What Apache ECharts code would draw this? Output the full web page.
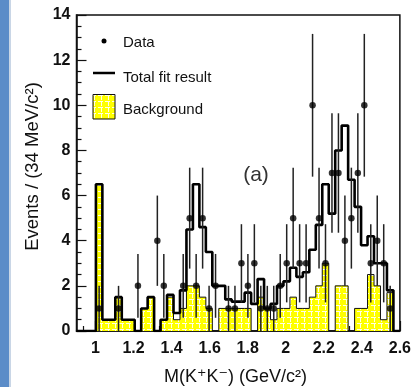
<!DOCTYPE html>
<html>
<head>
<meta charset="utf-8">
<script src="https://cdn.jsdelivr.net/npm/echarts@6/dist/echarts.min.js"></script>
<style>
  html, body { margin: 0; padding: 0; background: #fff; }
  #chart { width: 414px; height: 387px; }
</style>
</head>
<body>
<div id="chart"></div>
<script>
// K+K- invariant mass spectrum: 50 bins of 34 MeV/c^2 from 0.9 to 2.6 GeV/c^2
const massLow = 0.9;
const massHigh = 2.6;
const binWidth = 0.034;

// Observed events per bin
const dataCounts = [
  0, 0, 0, 1, 0, 0, 1, 0, 0, 2,
  0, 0, 4, 2, 0, 0, 2, 5, 2, 5,
  1, 2, 0, 1, 1, 3, 2, 3, 1, 1,
  1, 2, 3, 5, 3, 3, 10, 5, 3, 7,
  7, 4, 5, 7, 10, 3, 4, 3, 1, 0
];

// Total fit result per bin
const fitValues = [
  0, 0, 0, 6.5, 0.5, 0.5, 1.5, 0.5, 0.5, 0,
  1.0, 1.5, 0, 0.5, 1.6, 0.8, 1.8, 4.5, 6.5, 4.6,
  3.5, 2.0, 2.0, 1.4, 1.3, 1.3, 1.7, 1.2, 2.3, 1.0,
  1.2, 2.0, 2.2, 2.8, 2.4, 2.6, 3.6, 4.7, 6.5, 5.2,
  8.0, 9.1, 6.7, 5.5, 3.8, 4.2, 3.0, 3.0, 1.8, 0
];

// Background contribution per bin
const bkgValues = [
  0, 0, 0, 6.5, 0.5, 0.5, 1.5, 0.5, 0.5, 0,
  1.0, 1.5, 0, 0.5, 1.5, 0.5, 1.0, 2.0, 2.0, 1.5,
  1.0, 0, 1.0, 1.0, 1.0, 1.0, 1.0, 0, 1.5, 1.0,
  0.5, 1.0, 1.0, 1.5, 1.0, 1.0, 1.5, 2.0, 3.0, 0,
  2.0, 2.0, 0, 1.0, 1.0, 2.5, 2.0, 0.5, 1.7, 0
];

const xTickLabels = [1, 1.2, 1.4, 1.6, 1.8, 2, 2.2, 2.4, 2.6];
const yTickLabels = [0, 2, 4, 6, 8, 10, 12, 14];

// Histogram outline points: left edge of each bin, then the closing edge
function histPoints(values) {
  const pts = values.map((v, i) => [massLow + i * binWidth, v]);
  pts.push([massHigh, values[values.length - 1]]);
  pts.push([massHigh, 0]);
  return pts;
}

// Yellow fill with a fine white grid
function gridPattern() {
  const c = document.createElement('canvas');
  c.width = 7; c.height = 6;
  const g = c.getContext('2d');
  g.fillStyle = '#ffff00';
  g.fillRect(0, 0, 7, 6);
  g.fillStyle = 'rgba(255,255,255,0.9)';
  g.fillRect(3, 0, 1, 4);
  g.fillRect(0, 5, 5, 1);
  return c;
}
const pattern = { image: gridPattern(), repeat: 'repeat' };

// Points with Poisson (sqrt N) uncertainties; empty bins are not drawn
const points = [];
dataCounts.forEach((n, i) => {
  if (n > 0) points.push([massLow + (i + 0.5) * binWidth, n, Math.sqrt(n)]);
});

// Secondary ticks: three divisions between labelled ticks
const minorX = [];
for (let k = -1; k <= 24; k++) {
  if (k % 3 !== 0) minorX.push(1 + k * 0.2 / 3);
}

const FONT = '"Liberation Sans", "DejaVu Sans", Arial, sans-serif';

const chart = echarts.init(document.getElementById('chart'), null, { renderer: 'canvas' });

chart.setOption({
  animation: false,
  backgroundColor: '#fff',
  grid: {
    left: 76.5, top: 15, width: 326, height: 316,
    show: true, borderColor: '#111', borderWidth: 1.5, backgroundColor: 'transparent'
  },
  xAxis: [{
    type: 'value', min: massLow, max: massHigh,
    axisLine: { show: true, lineStyle: { color: '#111', width: 1.5 } },
    axisTick: { show: true, inside: true, length: 10, customValues: xTickLabels, lineStyle: { color: '#111', width: 1.2 } },
    axisLabel: {
      customValues: xTickLabels, margin: 10,
      fontFamily: FONT, fontSize: 16, fontWeight: 'bold', color: '#111',
      formatter: v => String(+v.toFixed(1))
    },
    splitLine: { show: false }
  }, {
    type: 'value', min: massLow, max: massHigh, position: 'bottom',
    axisLine: { show: false },
    axisTick: { show: true, inside: true, length: 5, customValues: minorX, lineStyle: { color: '#111', width: 1.2 } },
    axisLabel: { show: false },
    splitLine: { show: false }
  }],
  yAxis: {
    type: 'value', min: 0, max: 14, interval: 2,
    axisLine: { show: true, lineStyle: { color: '#111', width: 1.5 } },
    axisTick: { show: true, inside: true, length: 10, lineStyle: { color: '#111', width: 1.2 } },
    minorTick: { show: true, splitNumber: 4, length: 5, lineStyle: { color: '#111', width: 1.2 } },
    axisLabel: {
      margin: 6, fontFamily: FONT, fontSize: 16, fontWeight: 'bold', color: '#111',
      formatter: v => (yTickLabels.includes(v) ? String(v) : '')
    },
    splitLine: { show: false }
  },
  series: [{
    name: 'Background', type: 'line', step: 'end', symbol: 'none', z: 2,
    data: histPoints(bkgValues),
    lineStyle: { color: '#111', width: 1 },
    areaStyle: { color: pattern, opacity: 1 }
  }, {
    name: 'Total fit result', type: 'line', step: 'end', symbol: 'none', z: 3,
    data: histPoints(fitValues),
    lineStyle: { color: '#000', width: 2.6 }
  }, {
    name: 'errors', type: 'custom', z: 4,
    data: points,
    renderItem: (params, api) => {
      const x = api.value(0), y = api.value(1), e = api.value(2);
      const a = api.coord([x, y + e]);
      const b = api.coord([x, Math.max(0, y - e)]);
      return { type: 'line', shape: { x1: a[0], y1: a[1], x2: b[0], y2: b[1] },
               style: { stroke: '#222', lineWidth: 1.5 } };
    }
  }, {
    name: 'Data', type: 'scatter', z: 5,
    data: points.map(p => [p[0], p[1]]),
    symbol: 'circle', symbolSize: 6.5,
    itemStyle: { color: '#000' }
  }],
  graphic: [
    // left page strip
    { type: 'rect', shape: { x: 0, y: 0, width: 9, height: 387 }, style: { fill: '#5b8cc8' } },
    { type: 'rect', shape: { x: 9, y: 0, width: 2, height: 387 }, style: { fill: '#c9d6e6' } },
    // legend
    { type: 'circle', shape: { cx: 104, cy: 41, r: 2.5 }, style: { fill: '#000' } },
    { type: 'text', x: 123, y: 43.2, style: { text: 'Data', font: '15px ' + FONT, fill: '#111', verticalAlign: 'middle' } },
    { type: 'line', shape: { x1: 93, y1: 73, x2: 115, y2: 73 }, style: { stroke: '#000', lineWidth: 2.5 } },
    { type: 'text', x: 123, y: 78.2, style: { text: 'Total fit result', font: '15px ' + FONT, fill: '#111', verticalAlign: 'middle' } },
    { type: 'rect', shape: { x: 93, y: 94.5, width: 22, height: 24.5 }, style: { fill: pattern, stroke: '#111', lineWidth: 1 } },
    { type: 'text', x: 123, y: 109.8, style: { text: 'Background', font: '15px ' + FONT, fill: '#111', verticalAlign: 'middle' } },
    // panel tag
    { type: 'text', x: 256, y: 175, style: { text: '(a)', font: '21px ' + FONT, fill: '#333', align: 'center', verticalAlign: 'middle' } },
    // axis titles
    { type: 'text', x: 235.5, y: 377, style: { text: 'M(K\u207AK\u207B) (GeV/c\u00B2)', font: '18px ' + FONT, fill: '#111', align: 'center', verticalAlign: 'middle' } },
    { type: 'text', x: 33, y: 166.5, rotation: Math.PI / 2, style: { text: 'Events / (34 MeV/c\u00B2)', font: '18.5px ' + FONT, fill: '#111', align: 'center', verticalAlign: 'middle' } }
  ]
});
</script>
</body>
</html>
